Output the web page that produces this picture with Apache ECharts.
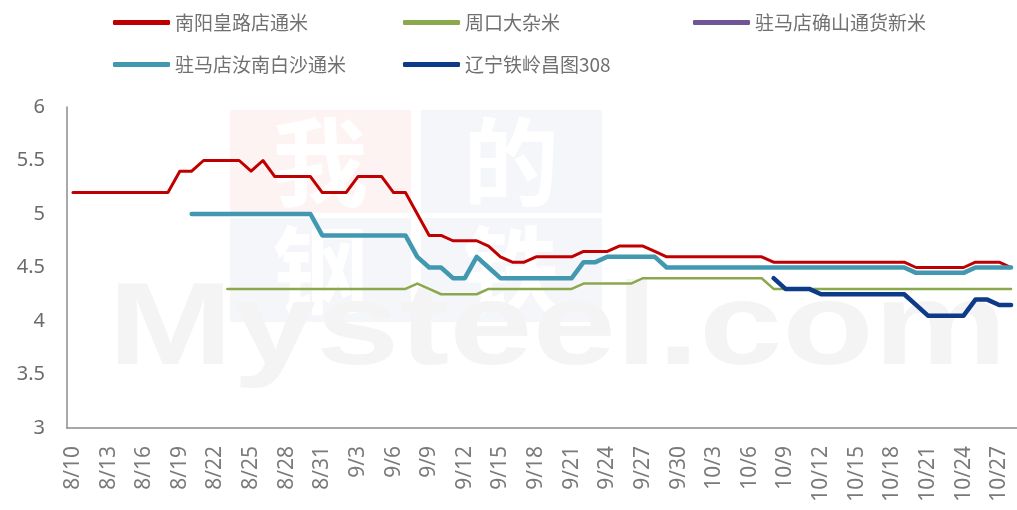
<!DOCTYPE html>
<html><head><meta charset="utf-8">
<script src="https://cdn.jsdelivr.net/npm/echarts@6/dist/echarts.min.js"></script>
<style>html,body{margin:0;padding:0;background:#fff}#c{width:1017px;height:510px}</style>
</head><body><div id="c"></div>
<script>
// categories: daily 8/10 .. 10/28
const categories = [
'8/10','8/11','8/12','8/13','8/14','8/15','8/16','8/17','8/18','8/19','8/20','8/21','8/22','8/23','8/24','8/25','8/26','8/27','8/28','8/29','8/30','8/31',
'9/1','9/2','9/3','9/4','9/5','9/6','9/7','9/8','9/9','9/10','9/11','9/12','9/13','9/14','9/15','9/16','9/17','9/18','9/19','9/20','9/21','9/22','9/23','9/24','9/25','9/26','9/27','9/28','9/29','9/30',
'10/1','10/2','10/3','10/4','10/5','10/6','10/7','10/8','10/9','10/10','10/11','10/12','10/13','10/14','10/15','10/16','10/17','10/18','10/19','10/20','10/21','10/22','10/23','10/24','10/25','10/26','10/27','10/28'];
const n = null;
const nanyang = [5.2,5.2,5.2,5.2,5.2,5.2,5.2,5.2,5.2,5.4,5.4,5.5,5.5,5.5,5.5,5.4,5.5,5.35,5.35,5.35,5.35,5.2,5.2,5.2,5.35,5.35,5.35,5.2,5.2,5.0,4.8,4.8,4.75,4.75,4.75,4.7,4.6,4.55,4.55,4.6,4.6,4.6,4.6,4.65,4.65,4.65,4.7,4.7,4.7,4.65,4.6,4.6,4.6,4.6,4.6,4.6,4.6,4.6,4.6,4.55,4.55,4.55,4.55,4.55,4.55,4.55,4.55,4.55,4.55,4.55,4.55,4.5,4.5,4.5,4.5,4.5,4.55,4.55,4.55,4.5];
const zhoukou = [n,n,n,n,n,n,n,n,n,n,n,n,n,4.3,4.3,4.3,4.3,4.3,4.3,4.3,4.3,4.3,4.3,4.3,4.3,4.3,4.3,4.3,4.3,4.35,4.3,4.25,4.25,4.25,4.25,4.3,4.3,4.3,4.3,4.3,4.3,4.3,4.3,4.35,4.35,4.35,4.35,4.35,4.4,4.4,4.4,4.4,4.4,4.4,4.4,4.4,4.4,4.4,4.4,4.3,4.3,4.3,4.3,4.3,4.3,4.3,4.3,4.3,4.3,4.3,4.3,4.3,4.3,4.3,4.3,4.3,4.3,4.3,4.3,4.3];
const queshan = categories.map(()=>null);
const runan = [n,n,n,n,n,n,n,n,n,n,5.0,5.0,5.0,5.0,5.0,5.0,5.0,5.0,5.0,5.0,5.0,4.8,4.8,4.8,4.8,4.8,4.8,4.8,4.8,4.6,4.5,4.5,4.4,4.4,4.6,4.5,4.4,4.4,4.4,4.4,4.4,4.4,4.4,4.55,4.55,4.6,4.6,4.6,4.6,4.6,4.5,4.5,4.5,4.5,4.5,4.5,4.5,4.5,4.5,4.5,4.5,4.5,4.5,4.5,4.5,4.5,4.5,4.5,4.5,4.5,4.5,4.45,4.45,4.45,4.45,4.45,4.5,4.5,4.5,4.5];
const tieling = [n,n,n,n,n,n,n,n,n,n,n,n,n,n,n,n,n,n,n,n,n,n,n,n,n,n,n,n,n,n,n,n,n,n,n,n,n,n,n,n,n,n,n,n,n,n,n,n,n,n,n,n,n,n,n,n,n,n,n,4.4,4.3,4.3,4.3,4.25,4.25,4.25,4.25,4.25,4.25,4.25,4.25,4.15,4.05,4.05,4.05,4.05,4.2,4.2,4.15,4.15];
const yTicks = ['3','3.5','4','4.5','5','5.5','6'];
const names = ['南阳皇路店通米','周口大杂米','驻马店确山通货新米','驻马店汝南白沙通米','辽宁铁岭昌图308'];
const colors = ['#C00000','#8BA84C','#6F5594','#4298B0','#0D3B87'];
const widths = [3,2.5,4,4.5,4.5];
const dataArr = [nanyang, zhoukou, queshan, runan, tieling];

const legendPos = [[108,8],[398,8],[688,8],[108,50],[398,50]];
const chart = echarts.init(document.getElementById('c'));
const legendText = {fontSize:19, color:'#707070', fontFamily:'Noto Sans CJK SC'};
const wmChar = (t,x,y)=>({type:'text', z:-9, x:x, y:y, style:{text:t, fontSize:96, fill:'#ffffff', fontFamily:'Noto Sans CJK SC', fontWeight:'bold', align:'center', verticalAlign:'middle'}, silent:true});
chart.setOption({
  animation:false,
  backgroundColor:'#fff',
  graphic:[
    {type:'rect', z:-10, shape:{x:230,y:110,width:181,height:103}, style:{fill:'#fdf3f3'}, silent:true},
    {type:'rect', z:-10, shape:{x:421,y:110,width:181,height:103}, style:{fill:'#f4f6fa'}, silent:true},
    {type:'rect', z:-10, shape:{x:230,y:218,width:181,height:104}, style:{fill:'#f4f6fa'}, silent:true},
    {type:'rect', z:-10, shape:{x:421,y:218,width:181,height:104}, style:{fill:'#f4f6fa'}, silent:true},
    wmChar('我',320,162), wmChar('的',511,162), wmChar('钢',320,270), wmChar('铁',511,270),
    {type:'text', z:-8, x:108, y:332, scaleX:1.28, style:{text:'Mysteel.com', fontSize:117, fill:'#f4f4f4', fontFamily:'Liberation Sans', fontWeight:'bold', align:'left', verticalAlign:'middle'}, silent:true}
  ],
  legend: names.map((nm,i)=>({
    data:[nm], left:legendPos[i][0], top:legendPos[i][1], icon:'roundRect',
    itemWidth:57, itemHeight:5, textStyle:legendText, selectedMode:false
  })),
  grid:{left:67, right:-6, top:107, bottom:82, containLabel:false},
  xAxis:{
    type:'category', data:categories, boundaryGap:true,
    axisLine:{lineStyle:{color:'#8c8c8c', width:1.5}},
    axisTick:{show:false},
    axisLabel:{interval:2, rotate:90, fontSize:21, color:'#7a7a7a', margin:18, fontFamily:'Noto Sans'}
  },
  yAxis:{
    type:'value', min:3, max:6, interval:0.5,
    axisLine:{show:true, lineStyle:{color:'#8c8c8c', width:1.5}},
    axisTick:{show:false},
    splitLine:{show:false},
    axisLabel:{fontSize:20, color:'#6b6b6b', margin:22, fontFamily:'Noto Sans',
      formatter:(v)=>yTicks.includes(String(v))?String(v):''}
  },
  series: names.map((nm,i)=>({
    name:nm, type:'line', data:dataArr[i], showSymbol:false, symbol:'none',
    color:colors[i], lineStyle:{width:widths[i], color:colors[i], cap:'round', join:'round'},
    connectNulls:false, z:2
  }))
});
</script></body></html>
